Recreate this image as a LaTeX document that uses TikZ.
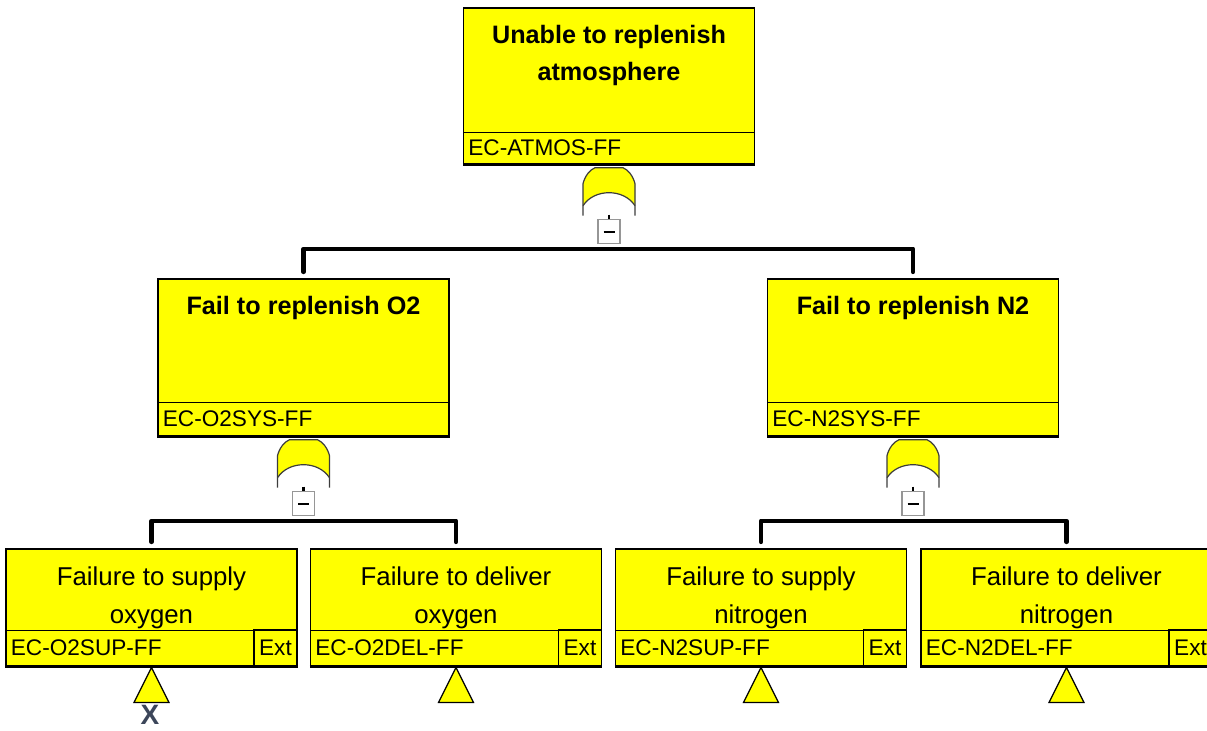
\documentclass[tikz,border=0pt]{standalone}
\usepackage{fontspec}
\setmainfont{Liberation Sans}
\usetikzlibrary{positioning,calc}
\definecolor{evyellow}{RGB}{255,255,0}
\definecolor{gateline}{RGB}{60,60,60}
\definecolor{minusgray}{RGB}{150,150,150}
\definecolor{xblue}{RGB}{60,70,90}
\begin{document}
\begin{tikzpicture}[x=0.5pt, y=-0.5pt,
    ev/.style={draw, fill=evyellow, line width=0.7pt, minimum width=145.5pt, inner sep=0pt},
    idstrip/.style={draw, line width=0.6pt, anchor=south west, inner xsep=2.5pt, inner ysep=0pt, text width=140.5pt, align=left, font=\fontsize{11.3}{13}\selectfont},
    extcell/.style={draw, line width=0.7pt, anchor=south east, minimum width=21.5pt, minimum height=18pt, inner sep=0pt, font=\fontsize{11.3}{13}\selectfont},
    ttl/.style={anchor=north, inner sep=0pt, align=center, font=\fontsize{12.6}{18.5}\selectfont\bfseries},
    body/.style={anchor=north, inner sep=0pt, align=center, font=\fontsize{12.9}{19}\selectfont},
    minusbox/.style={draw=minusgray, fill=white, line width=0.6pt, minimum width=11pt, minimum height=12pt, inner sep=0pt},
    bar/.style={line width=2.2pt, line cap=round, line join=round},
    transfer/.style={draw, fill=evyellow, line width=0.6pt, line join=miter},
    xmark/.style={text=xblue, font=\fontsize{14}{16}\selectfont\bfseries, inner sep=0pt}]
    \fill[white] (0,0) rectangle (1207,730);
    \useasboundingbox (0,0) rectangle (1207,730);

    \node (atmos) [ev, minimum height=78pt] at (609,86) {};
    \node (o2sys) [ev, minimum height=78.5pt] at (303.5,357.5) {};
    \node (n2sys) [ev, minimum height=78.5pt] at (913,357.5) {};
    \node (o2sup) [ev, minimum height=58.5pt] at (151.5,607.5) {};
    \node (o2del) [ev, minimum height=58.5pt] at (456,607.5) {};
    \node (n2sup) [ev, minimum height=58.5pt] at (761,607.5) {};
    \node (n2del) [ev, minimum height=58.5pt] at (1066.5,607.5) {};

    \node (atmos-id) [idstrip, minimum height=16pt] at (atmos.south west) {EC-ATMOS-FF};
    \node (o2sys-id) [idstrip, minimum height=17pt] at (o2sys.south west) {EC-O2SYS-FF};
    \node (n2sys-id) [idstrip, minimum height=17pt] at (n2sys.south west) {EC-N2SYS-FF};
    \node (o2sup-id) [idstrip, minimum height=18pt] at (o2sup.south west) {EC-O2SUP-FF};
    \node (o2del-id) [idstrip, minimum height=18pt] at (o2del.south west) {EC-O2DEL-FF};
    \node (n2sup-id) [idstrip, minimum height=18pt] at (n2sup.south west) {EC-N2SUP-FF};
    \node (n2del-id) [idstrip, minimum height=18pt] at (n2del.south west) {EC-N2DEL-FF};

    \foreach \b in {o2sup,o2del,n2sup,n2del}
        \node (\b-ext) [extcell] at (\b.south east) {Ext};
    \foreach \b in {atmos,o2sys,n2sys,o2sup,o2del,n2sup,n2del}
        \draw[line width=1.5pt] (\b.south west) -- (\b.south east);

    \node (atmos-t) [ttl] at ([yshift=-8.8pt]atmos.north) {Unable to replenish\\atmosphere};
    \node (o2sys-t) [ttl] at ([yshift=-8.8pt]o2sys.north) {Fail to replenish O2};
    \node (n2sys-t) [ttl] at ([yshift=-8.8pt]n2sys.north) {Fail to replenish N2};
    \node (o2sup-t) [body] at ([yshift=-8.8pt]o2sup.north) {Failure to supply\\oxygen};
    \node (o2del-t) [body] at ([yshift=-8.8pt]o2del.north) {Failure to deliver\\oxygen};
    \node (n2sup-t) [body] at ([yshift=-8.8pt]n2sup.north) {Failure to supply\\nitrogen};
    \node (n2del-t) [body] at ([yshift=-8.8pt]n2del.north) {Failure to deliver\\nitrogen};

    % or gates
    \foreach \p in {atmos,o2sys,n2sys} {
        \begin{scope}[shift={(\p.south)}]
            \fill[evyellow] (-26,41) -- (-26,19) .. controls (-24,11) and (-19,5) .. (-14,3) -- (14,3)
                .. controls (19,5) and (24,11) .. (26,19) -- (26,41)
                .. controls (20,32) and (10,28) .. (0,28) .. controls (-10,28) and (-20,32) .. (-26,41) -- cycle;
            \draw[gateline, line width=0.6pt] (-26,51) -- (-26,19) .. controls (-24,11) and (-19,5) .. (-14,3) -- (14,3)
                .. controls (19,5) and (24,11) .. (26,19) -- (26,51);
            \draw[gateline, line width=0.6pt] (-26,41) .. controls (-20,32) and (-10,28) .. (0,28)
                .. controls (10,28) and (20,32) .. (26,41);
            \node (\p-g) [minusbox] at (0,67) {\rule{5.5pt}{0.9pt}};
            \draw[line width=1.2pt] (0,50) -- (\p-g.north);
        \end{scope}
    }

    \draw[bar] ([yshift=3.2pt]o2sys.north) |- ([yshift=-2.25pt]atmos-g.south) -| ([yshift=3.2pt]n2sys.north);
    \draw[bar] ([yshift=3.2pt]o2sup.north) |- ([yshift=-2.25pt]o2sys-g.south) -| ([yshift=3.2pt]o2del.north);
    \draw[bar] ([yshift=3.2pt]n2sup.north) |- ([yshift=-2.25pt]n2sys-g.south) -| ([yshift=3.2pt]n2del.north);

    \foreach \b in {o2sup,o2del,n2sup,n2del}
        \draw[transfer] ([yshift=-0.4pt]\b.south) -- ++(-17.5,35) -- ++(35,0) -- cycle;

    \node (o2sup-x) [xmark] at (150,715) {X};
\end{tikzpicture}
\end{document}
